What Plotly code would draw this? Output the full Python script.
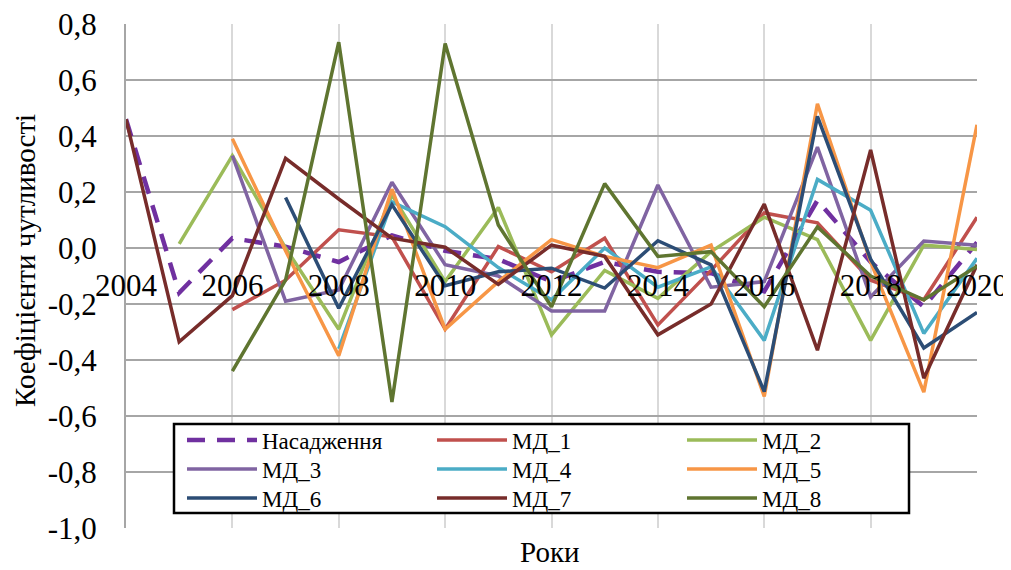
import plotly.graph_objects as go

years = list(range(2004, 2021))
series_names = ["Насадження", "МД_1", "МД_2", "МД_3", "МД_4", "МД_5", "МД_6", "МД_7", "МД_8"]

nasadzhennia = [0.46, -0.16, 0.035, 0.005, -0.05, 0.045, -0.01, -0.04, -0.12, -0.05, -0.085, -0.09, -0.155, 0.17, -0.05, -0.21, 0.02]
md_1 = [None, None, -0.22, -0.115, 0.065, 0.04, -0.29, 0.005, -0.085, 0.035, -0.275, -0.08, 0.125, 0.09, -0.115, -0.185, 0.11]
md_2 = [None, 0.015, 0.33, 0.0, -0.29, 0.19, -0.12, 0.145, -0.31, -0.08, -0.18, -0.013, 0.11, 0.03, -0.33, 0.01, -0.005]
md_3 = [None, None, 0.33, -0.19, -0.15, 0.235, -0.06, -0.10, -0.225, -0.225, 0.225, -0.14, -0.12, 0.36, -0.175, 0.025, 0.01]
md_4 = [None, None, None, None, -0.36, 0.165, 0.076, -0.07, -0.185, 0.0, -0.14, -0.067, -0.33, 0.245, 0.135, -0.305, -0.037]
md_5 = [None, None, 0.39, -0.01, -0.385, 0.21, -0.29, -0.12, 0.03, -0.03, -0.07, 0.01, -0.53, 0.515, -0.05, -0.515, 0.44]
md_6 = [None, None, None, 0.18, -0.215, 0.155, -0.135, -0.085, -0.072, -0.143, 0.026, -0.06, -0.513, 0.47, -0.04, -0.357, -0.23]
md_7 = [0.46, -0.335, -0.17, 0.32, 0.175, 0.035, 0.003, -0.13, 0.01, -0.03, -0.31, -0.2, 0.157, -0.365, 0.35, -0.465, -0.06]
md_8 = [None, None, -0.44, -0.115, 0.735, -0.55, 0.73, 0.082, -0.21, 0.23, -0.03, -0.013, -0.21, 0.075, -0.10, -0.185, -0.065]

all_series = [nasadzhennia, md_1, md_2, md_3, md_4, md_5, md_6, md_7, md_8]
colors = ["#7030A0", "#C0504D", "#9BBB59", "#8064A2", "#4BACC6", "#F79646", "#2C4D75", "#772C2A", "#5F7530"]

x_tick_vals = [2004, 2006, 2008, 2010, 2012, 2014, 2016, 2018, 2020]
x_tick_text = ["2004", "2006", "2008", "2010", "2012", "2014", "2016", "2018", "2020"]
y_tick_vals = [-1.0, -0.8, -0.6, -0.4, -0.2, 0.0, 0.2, 0.4, 0.6, 0.8]
y_tick_text = ["-1,0", "-0,8", "-0,6", "-0,4", "-0,2", "0,0", "0,2", "0,4", "0,6", "0,8"]

FONT = "Liberation Serif"

# the page places the figure 8px from the top-left corner of the window
OFF = 8
W, H = 1011 - OFF, 570 - OFF
ml, mr, mt, mb = 126 - OFF, 34, 24 - OFF, 42
pw, ph = W - ml - mr, H - mt - mb

def px_x(x):
    return (x - OFF - ml) / pw

def px_y(y):
    return (H - mb - (y - OFF)) / ph

legend_ids = ["legend", "legend", "legend", "legend2", "legend2", "legend2", "legend3", "legend3", "legend3"]

fig = go.Figure()
for name, vals, col, lg in zip(series_names, all_series, colors, legend_ids):
    if name == "Насадження":
        line = dict(color=col, width=4.5, dash="18px,12px")
    else:
        line = dict(color=col, width=3.5)
    fig.add_trace(go.Scatter(x=years, y=vals, mode="lines", name=name, line=line, legend=lg))

def legend_row(y_px):
    return dict(
        orientation="h",
        x=px_x(182), y=px_y(y_px), xanchor="left", yanchor="middle",
        bgcolor="rgba(0,0,0,0)", borderwidth=0,
        font=dict(family=FONT, size=23, color="black"),
        itemwidth=70, entrywidth=165, entrywidthmode="pixels",
        traceorder="normal",
    )

fig.update_layout(
    width=W, height=H,
    margin=dict(l=ml, r=mr, t=mt, b=mb, autoexpand=False),
    paper_bgcolor="white", plot_bgcolor="white",
    font=dict(family=FONT, size=30, color="black"),
    showlegend=True,
    legend=legend_row(440),
    legend2=legend_row(469),
    legend3=legend_row(498),
    xaxis=dict(
        range=[2004, 2020], tickvals=x_tick_vals, ticktext=x_tick_text,
        showgrid=True, gridcolor="#D9D9D9", gridwidth=2,
        showline=False, zeroline=False, ticks="",
        anchor="free", position=1 / 1.8, automargin=False,
        tickfont=dict(family=FONT, size=31),
        ticklabelstandoff=16, ticklabeloverflow="allow",
    ),
    yaxis=dict(
        range=[-1.0, 0.8], tickvals=y_tick_vals, ticktext=y_tick_text,
        showgrid=True, gridcolor="#A6A6A6", gridwidth=2, automargin=False,
        zeroline=False, showline=True, linecolor="#A6A6A6", linewidth=2,
        ticks="", tickfont=dict(family=FONT, size=31),
        ticklabelstandoff=21, ticklabeloverflow="allow",
    ),
    shapes=[dict(
        type="rect", xref="paper", yref="paper",
        x0=px_x(174), x1=px_x(909), y0=px_y(513), y1=px_y(424),
        line=dict(color="black", width=2.5), fillcolor="white", layer="above",
    )],
    annotations=[
        dict(text="Коефіцієнти чутливості", xref="paper", yref="paper",
             x=px_x(25), y=px_y(261), xanchor="center", yanchor="middle",
             textangle=-90, showarrow=False, font=dict(family=FONT, size=29)),
        dict(text="Роки", xref="paper", yref="paper",
             x=px_x(550), y=px_y(552), xanchor="center", yanchor="middle",
             showarrow=False, font=dict(family=FONT, size=29)),
    ],
)

fig.write_html("out.html")
